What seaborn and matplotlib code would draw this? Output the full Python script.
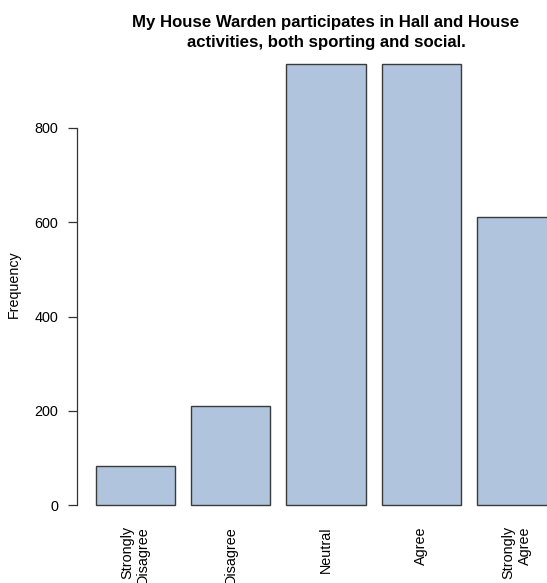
import matplotlib
matplotlib.use('Agg')
import matplotlib.pyplot as plt
import seaborn as sns
import pandas as pd

# Likert responses for the warden question
categories = ['Strongly\nDisagree', 'Disagree', 'Neutral', 'Agree', 'Strongly\nAgree']
counts = [84, 211, 935, 935, 611]
y_ticks = [0, 200, 400, 600, 800]
title = 'My House Warden participates in Hall and House\nactivities, both sporting and social.'

df = pd.DataFrame({'response': categories, 'frequency': counts})

sns.set_style('white')
plt.rcParams['font.family'] = ['Liberation Sans', 'DejaVu Sans']
plt.rcParams['text.color'] = 'black'
plt.rcParams['axes.labelcolor'] = 'black'
plt.rcParams['xtick.color'] = 'black'
plt.rcParams['ytick.color'] = 'black'

fig = plt.figure(figsize=(5.47, 5.83), dpi=100)
# plot region runs past the right edge, like the cropped original
ax = fig.add_axes([77.0 / 547, 60.0 / 583, 498.0 / 547, 476.7 / 583])

sns.barplot(data=df, x='response', y='frequency', color='#B0C4DE', saturation=1,
            edgecolor='#3a3a3a', linewidth=1.0, width=0.833, ax=ax)

ax.set_xlim(-0.611, 4.613)
ax.set_ylim(-37.4, 972.4)

for side in ['top', 'right', 'bottom']:
    ax.spines[side].set_visible(False)
ax.spines['left'].set_bounds(0, 800)
ax.spines['left'].set_color('#333333')
ax.spines['left'].set_linewidth(0.9)

ax.set_yticks(y_ticks)
ax.set_yticklabels([str(v) for v in y_ticks])
ax.tick_params(axis='y', direction='out', length=6.2, width=0.9, color='#333333',
               pad=7.5, labelsize=10.4, left=True)
ax.tick_params(axis='x', length=0, pad=2.2, labelsize=10.4)
for lbl in ax.get_xticklabels():
    lbl.set_rotation(90)
    lbl.set_va('top')
    lbl.set_ha('center')
    lbl.set_multialignment('right')

ax.set_xlabel('')
ax.set_ylabel('Frequency', fontsize=10.3)
ax.yaxis.set_label_coords(-0.112, 0.5)

ax.set_title(title, fontsize=12.1, fontweight='bold', pad=-0.6, linespacing=1.45)

fig.savefig('out.png', dpi=100)
